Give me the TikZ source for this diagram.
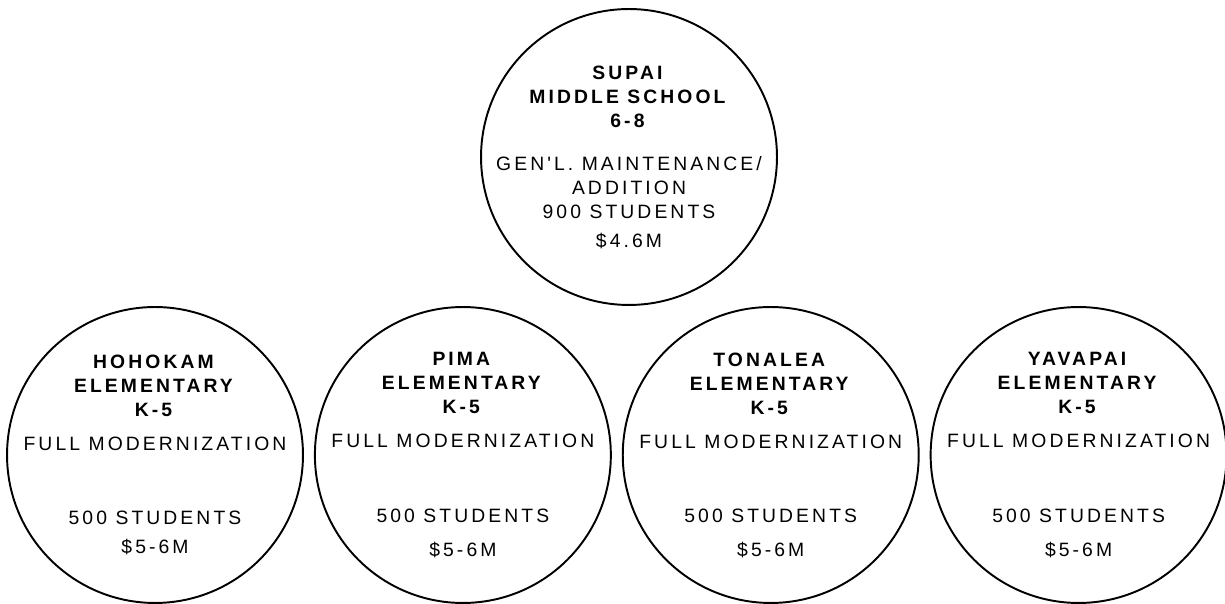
\documentclass[tikz,border=0pt]{standalone}
\usepackage{fontspec}
\newfontfamily\schoolfont[LetterSpace=16]{Liberation Sans}
\usetikzlibrary{positioning}

\begin{document}
\begin{tikzpicture}[x=0.02cm,y=-0.02cm,node distance=0.2cm,
    school/.style={circle,draw,line width=1.1pt,minimum size=5.92cm,inner sep=0pt},
    schooltext/.style={align=center,font=\schoolfont\fontsize{11}{13.66}\selectfont}]

  \useasboundingbox (0,0) rectangle (1225,604);

  % middle school on top
  \node[school,label={[schooltext]center:{\textbf{SUPAI}\\\textbf{MIDDLE SCHOOL}\\\textbf{6-8}\\[10.8pt]
        GEN'L. MAINTENANCE/\\ADDITION\\900 STUDENTS\\[2.8pt]\$4.6M}}] (supai) at (629,157) {};

  % elementary schools below
  \node[school,label={[schooltext]center:{\textbf{HOHOKAM}\\\textbf{ELEMENTARY}\\\textbf{K-5}\\[5.7pt]
        FULL MODERNIZATION\\[28.5pt]500 STUDENTS\\[3pt]\$5-6M}}] (hohokam) at (155,455) {};

  \node[school,label={[schooltext]center:{\textbf{PIMA}\\\textbf{ELEMENTARY}\\\textbf{K-5}\\[5.7pt]
        FULL MODERNIZATION\\[28.5pt]500 STUDENTS\\[5.7pt]\$5-6M}}] (pima) [right=of hohokam] {};

  \node[school,label={[schooltext]center:{\textbf{TONALEA}\\\textbf{ELEMENTARY}\\\textbf{K-5}\\[5.7pt]
        FULL MODERNIZATION\\[28.5pt]500 STUDENTS\\[5.7pt]\$5-6M}}] (tonalea) [right=of pima] {};

  \node[school,label={[schooltext]center:{\textbf{YAVAPAI}\\\textbf{ELEMENTARY}\\\textbf{K-5}\\[5.7pt]
        FULL MODERNIZATION\\[28.5pt]500 STUDENTS\\[5.7pt]\$5-6M}}] (yavapai) [right=of tonalea] {};

\end{tikzpicture}
\end{document}
